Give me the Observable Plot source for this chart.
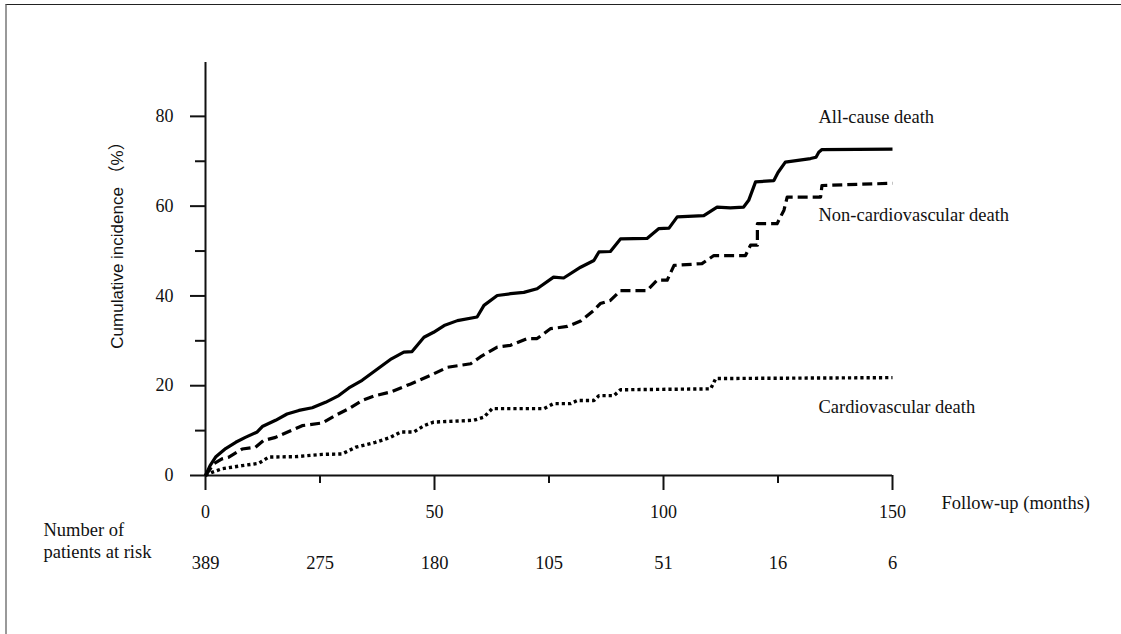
<!DOCTYPE html>
<html>
<head>
<meta charset="utf-8">
<script src="https://cdn.jsdelivr.net/npm/d3@7"></script>
<script src="https://cdn.jsdelivr.net/npm/@observablehq/plot@0.6"></script>
<style>
  html, body { margin: 0; padding: 0; background: #fff; }
  #wrap { position: relative; width: 1121px; height: 634px; overflow: hidden; }
  #frame { position: absolute; left: 5px; top: 4px; right: 0; bottom: 0;
           border-top: 1px solid #222; border-left: 2px solid #999; pointer-events: none; }
  svg { display: block; }
</style>
</head>
<body>
<div id="wrap"><div id="chart"></div><div id="frame"></div></div>
<script>
// ---- data (months, cumulative incidence %) ----
const allCause = [
  [0,0],[1,2.2],[2.2,4.1],[4.4,6.0],[6.6,7.4],[8.7,8.5],[11.3,9.7],[12.4,10.9],[15.3,12.3],
  [17.8,13.7],[20.4,14.5],[23.3,15.1],[26.2,16.3],[29.1,17.8],[31.3,19.5],[34.2,21.2],
  [37.1,23.4],[40.6,26.0],[43.3,27.5],[45.1,27.6],[47.7,30.8],[49.8,31.9],[52.1,33.4],
  [55.0,34.5],[59.3,35.3],[60.8,37.9],[63.7,40.1],[66.6,40.5],[69.5,40.8],[72.4,41.6],
  [76.0,44.2],[78.2,44.0],[81.9,46.4],[84.8,47.9],[85.9,49.8],[88.4,49.9],[90.6,52.7],
  [96.4,52.8],[99.0,55.0],[101.2,55.1],[103.0,57.6],[108.8,57.9],[111.7,59.8],[114.6,59.6],
  [117.5,59.8],[118.6,61.3],[120.1,65.4],[124.1,65.7],[125.0,67.5],[126.6,69.8],[132.1,70.6],
  [133.3,70.9],[133.9,72.0],[134.6,72.6],[150,72.7]
];
const nonCardio = [
  [0,0],[1.8,2.6],[3.6,3.7],[5.1,4.1],[8.0,5.9],[10.9,6.3],[12.7,7.8],[15.3,8.5],[18.2,9.8],
  [21.1,11.1],[25.5,11.7],[28.4,13.4],[31.3,14.9],[34.2,16.7],[37.1,17.8],[40.4,18.6],
  [44.8,20.4],[49.1,22.3],[52.8,24.1],[57.9,24.9],[60.0,26.4],[63.7,28.6],[66.6,29.0],
  [70.2,30.5],[72.4,30.5],[75.3,32.7],[79.0,33.2],[81.9,34.4],[84.8,36.8],[86.2,38.3],
  [88.4,39.0],[90.6,41.2],[96.4,41.2],[98.6,43.5],[100.8,43.5],[102.3,46.8],[108.4,47.2],
  [111.0,49.0],[117.9,49.0],[119.0,51.3],[120.5,51.3],[120.5,56.1],[124.8,56.1],[126.3,59.1],
  [127.0,62.0],[134.3,62.0],[134.6,64.6],[150,65.1]
];
const cardio = [
  [0,0],[1.4,0.7],[3.6,1.5],[8.0,2.2],[11.6,2.7],[13.8,4.1],[19.7,4.2],[25.5,4.7],[29.8,4.8],
  [32.8,6.3],[37.1,7.4],[40.4,8.5],[42.6,9.7],[45.5,9.7],[47.7,11.1],[49.8,11.9],[58.6,12.3],
  [60.8,13.0],[62.6,14.9],[73.9,14.9],[76.0,16.0],[79.7,16.0],[81.2,16.7],[84.8,16.7],
  [85.9,17.8],[89.2,17.8],[90.6,19.1],[110.3,19.3],[111.4,21.6],[150,21.8]
];
const seriesNames = ["All-cause death", "Non-cardiovascular death", "Cardiovascular death"];
const xTicksMajor = [0, 50, 100, 150];
const xTicksMinor = [25, 75, 125];
const yTicksMajor = [0, 20, 40, 60, 80];
const yTicksMinor = [10, 30, 50, 70];
const riskTimes = [0, 25, 50, 75, 100, 125, 150];
const riskCounts = [389, 275, 180, 105, 51, 16, 6];
const xLabel = "Follow-up (months)";
const yLabel = "Cumulative incidence （%）";
const riskLabel = "Number of\npatients at risk";

// ---- build ----
const seriesData = [allCause, nonCardio, cardio];
const labelRows = seriesNames.map((name, i) => {
  const last = seriesData[i][seriesData[i].length - 1];
  return {name, x: last[0], y: last[1]};
});
const labelDy = [-32, 32, 29];

const serif = "'Liberation Serif', 'Times New Roman', serif";
const ink = "#111";
const lineOpts = {x: d => d[0], y: d => d[1], stroke: "#000", strokeLinecap: "butt", strokeLinejoin: "round"};

const chart = Plot.plot({
  width: 1121,
  height: 634,
  marginLeft: 205,
  marginRight: 229,
  marginTop: 62,
  marginBottom: 159,
  x: {domain: [0, 150], axis: null},
  y: {domain: [0, 92], axis: null},
  style: {fontFamily: serif, fontSize: "18px", color: ink, background: "transparent"},
  marks: [
    Plot.ruleX([0], {stroke: ink, strokeWidth: 2}),
    Plot.ruleY([0], {stroke: ink, strokeWidth: 2}),
    Plot.axisY(yTicksMajor, {anchor: "left", tickSize: 15, tickPadding: 17, strokeWidth: 2, stroke: ink, fill: ink,
      label: null, fontSize: 18, fontFamily: serif}),
    Plot.axisY(yTicksMinor, {anchor: "left", tickSize: 10, strokeWidth: 2, stroke: ink, tickFormat: () => "", label: null}),
    Plot.axisX(xTicksMajor, {anchor: "bottom", tickSize: 15, tickPadding: 15, strokeWidth: 2, stroke: ink, fill: ink,
      label: null, fontSize: 18, fontFamily: serif}),
    Plot.axisX(xTicksMinor, {anchor: "bottom", tickSize: 8, strokeWidth: 2, stroke: ink, tickFormat: () => "", label: null}),
    Plot.line(allCause, {...lineOpts, strokeWidth: 3.2}),
    Plot.line(nonCardio, {...lineOpts, strokeWidth: 3.2, strokeDasharray: "10,5"}),
    Plot.line(cardio, {...lineOpts, strokeWidth: 3.4, strokeDasharray: "3.2,3"}),
    ...labelRows.map((r, i) => Plot.text([r], {
      x: "x", y: "y", text: "name", dx: -74, dy: labelDy[i], textAnchor: "start",
      fontSize: 18.5, fill: ink, fontFamily: serif
    })),
    Plot.text([xLabel], {text: d => d, frameAnchor: "bottom-right", dx: 49, dy: 33, textAnchor: "start",
      fontSize: 18.5, fill: ink, fontFamily: serif}),
    Plot.text([yLabel], {text: d => d, frameAnchor: "left", rotate: -90, dx: -88, dy: -28, textAnchor: "middle",
      fontSize: 17, fontFamily: "'Liberation Sans', Arial, 'Noto Sans CJK SC', sans-serif", fill: ink}),
    Plot.text(riskTimes, {x: d => d, text: (d, i) => String(riskCounts[i]), frameAnchor: "bottom", dy: 93,
      fontSize: 18.5, fill: ink, fontFamily: serif}),
    Plot.text([riskLabel], {text: d => d, frameAnchor: "bottom-left", dx: -162, dy: 82, textAnchor: "start",
      lineHeight: 1.18, fontSize: 18.5, fill: ink, fontFamily: serif})
  ]
});
document.getElementById("chart").appendChild(chart);
</script>
</body>
</html>
